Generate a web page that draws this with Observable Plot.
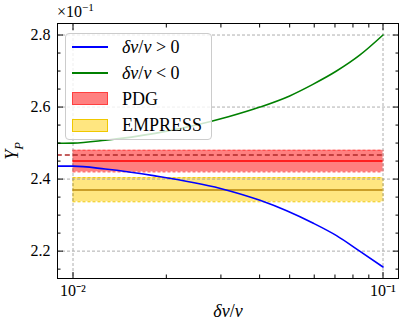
<!DOCTYPE html>
<html>
<head>
<meta charset="utf-8">
<script src="https://cdn.jsdelivr.net/npm/d3@7"></script>
<script src="https://cdn.jsdelivr.net/npm/@observablehq/plot@0.6"></script>
<style>
  body { margin: 0; background: white; }
  #wrap { position: relative; width: 407px; height: 330px; font-family: "Liberation Serif", serif; color: black; }
  .ov { position: absolute; white-space: nowrap; line-height: 1; }
  #legend { position: absolute; left: 65px; top: 33px; width: 147px; height: 107px; box-sizing: border-box;
            border: 1px solid #cccccc; border-radius: 4px; background: rgba(255,255,255,0.8); }
  .row { position: absolute; left: 0; height: 0; }
  .sw { position: absolute; left: 6px; width: 36px; }
  .lab { position: absolute; left: 56px; font-size: 18px; line-height: 1; transform: translateY(-52%); white-space: nowrap; }
  sup { font-size: 70%; vertical-align: 0; position: relative; top: -0.55em; }
</style>
</head>
<body>
<div id="wrap"></div>
<script>
// ---- data ----
const blueX = [0.0089, 0.01, 0.0127, 0.0184, 0.0299, 0.0401, 0.0489, 0.0594, 0.0708, 0.0841, 0.1];
const blueY = [2.436, 2.436, 2.428, 2.409, 2.374, 2.341, 2.312, 2.278, 2.243, 2.200, 2.156];
const greenX = [0.0089, 0.01, 0.0127, 0.0184, 0.0317, 0.0401, 0.05, 0.0594, 0.0708, 0.0841, 0.1];
const greenY = [2.4996, 2.500, 2.508, 2.527, 2.573, 2.600, 2.631, 2.663, 2.700, 2.744, 2.800];

const bandNames = ["PDG", "EMPRESS"];
const bandLow = [2.42, 2.337];
const bandHigh = [2.48, 2.404];
const bandMid = [2.45, 2.37];
const bandFill = ["#ff8080", "#ffe680"];
const bandEdge = ["#ff4040", "#f0c800"];
const bandMidColor = ["#ff0000", "#b8860b"];
const bandX = [0.01, 0.1];

const refY = 2.467;
const refX = [0.0089, 0.1];

const yMajor = [2.2, 2.4, 2.6, 2.8];
const yMinor = [2.15, 2.25, 2.3, 2.35, 2.45, 2.5, 2.55, 2.65, 2.7, 2.75];
const xMajor = [0.01, 0.1];
const xMajorLabels = ["10⁻²", "10⁻¹"];
const xMinor = [0.02, 0.03, 0.04, 0.05, 0.06, 0.07, 0.08, 0.09];

// ---- tables ----
const blue = blueX.map((x, i) => ({x, y: blueY[i]}));
const green = greenX.map((x, i) => ({x, y: greenY[i]}));
const bands = bandNames.map((name, i) => ({name, lo: bandLow[i], hi: bandHigh[i], mid: bandMid[i],
  fill: bandFill[i], edge: bandEdge[i], midc: bandMidColor[i], x1: bandX[0], x2: bandX[1]}));
const ref = [{y: refY, x1: refX[0], x2: refX[1]}];

const blank = () => "";
const chart = Plot.plot({
  width: 407, height: 330,
  marginLeft: 57, marginRight: 9, marginTop: 23, marginBottom: 52,
  style: {fontFamily: "Liberation Serif, serif", fontSize: "16px", color: "black", background: "white", overflow: "visible"},
  x: {type: "log", domain: [Math.pow(10, -2.05), Math.pow(10, -0.95)]},
  y: {domain: [2.124, 2.832]},
  marks: [
    Plot.rect(bands, {x1: "x1", x2: "x2", y1: "lo", y2: "hi", fill: "fill"}),
    Plot.ruleY(bands, {y: "lo", x1: "x1", x2: "x2", stroke: "edge", strokeWidth: 1, strokeDasharray: "3,2"}),
    Plot.ruleY(bands, {y: "hi", x1: "x1", x2: "x2", stroke: "edge", strokeWidth: 1, strokeDasharray: "3,2"}),
    Plot.ruleX(bands.flatMap(b => [{x: b.x1, lo: b.lo, hi: b.hi, edge: b.edge}, {x: b.x2, lo: b.lo, hi: b.hi, edge: b.edge}]),
      {x: "x", y1: "lo", y2: "hi", stroke: "edge", strokeWidth: 1, strokeDasharray: "3,2"}),
    Plot.gridY(yMajor, {stroke: "#999", strokeOpacity: 1, strokeWidth: 0.8, strokeDasharray: "3,2"}),
    Plot.gridX(xMajor, {stroke: "#999", strokeOpacity: 1, strokeWidth: 0.8, strokeDasharray: "3,2"}),
    Plot.ruleY(bands, {y: "mid", x1: "x1", x2: "x2", stroke: "midc", strokeWidth: 1.5}),
    Plot.ruleY(ref, {y: "y", x1: "x1", x2: "x2", stroke: "#b02828", strokeWidth: 1.5, strokeDasharray: "5,3", clip: true}),
    Plot.line(green, {x: "x", y: "y", stroke: "#008000", strokeWidth: 1.6, curve: "monotone-x", clip: true}),
    Plot.line(blue, {x: "x", y: "y", stroke: "#0000ff", strokeWidth: 1.6, curve: "monotone-x", clip: true}),
    // y axes
    Plot.axisY(yMajor, {anchor: "left", tickSize: 0, tickPadding: 7, tickFormat: d => d.toFixed(1), label: null}),
    Plot.axisY(yMajor, {anchor: "left", tickSize: -6, tickFormat: blank, label: null}),
    Plot.axisY(yMinor, {anchor: "left", tickSize: -3.5, tickFormat: blank, label: null}),
    Plot.axisY(yMajor, {anchor: "right", tickSize: -6, tickFormat: blank, label: null}),
    Plot.axisY(yMinor, {anchor: "right", tickSize: -3.5, tickFormat: blank, label: null}),
    // x axes
    Plot.axisX(xMajor, {anchor: "bottom", tickSize: 0, tickPadding: 6, tickFormat: d => xMajorLabels[xMajor.indexOf(d)], label: null}),
    Plot.axisX(xMajor, {anchor: "bottom", tickSize: -6, tickFormat: blank, label: null}),
    Plot.axisX(xMinor, {anchor: "bottom", tickSize: -3.5, tickFormat: blank, label: null}),
    Plot.axisX(xMajor, {anchor: "top", tickSize: -6, tickFormat: blank, label: null}),
    Plot.axisX(xMinor, {anchor: "top", tickSize: -3.5, tickFormat: blank, label: null}),
    Plot.frame({stroke: "black", strokeWidth: 1})
  ]
});

const wrap = document.getElementById("wrap");
wrap.appendChild(chart);

function ov(html, css) {
  const d = document.createElement("div");
  d.className = "ov";
  d.innerHTML = html;
  Object.assign(d.style, css);
  wrap.appendChild(d);
  return d;
}
ov("×10<sup>−1</sup>", {left: "57px", top: "4px", fontSize: "16px"});
ov("<i>δv</i>/<i>v</i>", {left: "228px", top: "302px", fontSize: "18px", transform: "translateX(-50%)"});
ov("<i>Y</i><sub style='font-size:70%'><i>P</i></sub>", {left: "14px", top: "151px", fontSize: "18px",
  transform: "translate(-50%,-50%) rotate(-90deg)"});

// legend
const legend = document.createElement("div");
legend.id = "legend";
wrap.appendChild(legend);
const entries = [
  {type: "line", color: "#0000ff", html: "<i>δv</i>/<i>v</i> &gt; 0"},
  {type: "line", color: "#008000", html: "<i>δv</i>/<i>v</i> &lt; 0"},
  {type: "patch", color: bandFill[0], edge: bandEdge[0], html: bandNames[0]},
  {type: "patch", color: bandFill[1], edge: bandEdge[1], html: bandNames[1]}
];
entries.forEach((e, i) => {
  const row = document.createElement("div");
  row.className = "row";
  row.style.top = (12.5 + i * 26.2) + "px";
  const sw = document.createElement("div");
  sw.className = "sw";
  if (e.type === "line") {
    Object.assign(sw.style, {height: "0px", borderTop: "2px solid " + e.color, top: "-1px"});
  } else {
    Object.assign(sw.style, {height: "13px", top: "-6.5px", background: e.color, boxSizing: "border-box", border: "1px solid " + e.edge});
  }
  const lab = document.createElement("div");
  lab.className = "lab";
  lab.innerHTML = e.html;
  row.appendChild(sw);
  row.appendChild(lab);
  legend.appendChild(row);
});
</script>
</body>
</html>
